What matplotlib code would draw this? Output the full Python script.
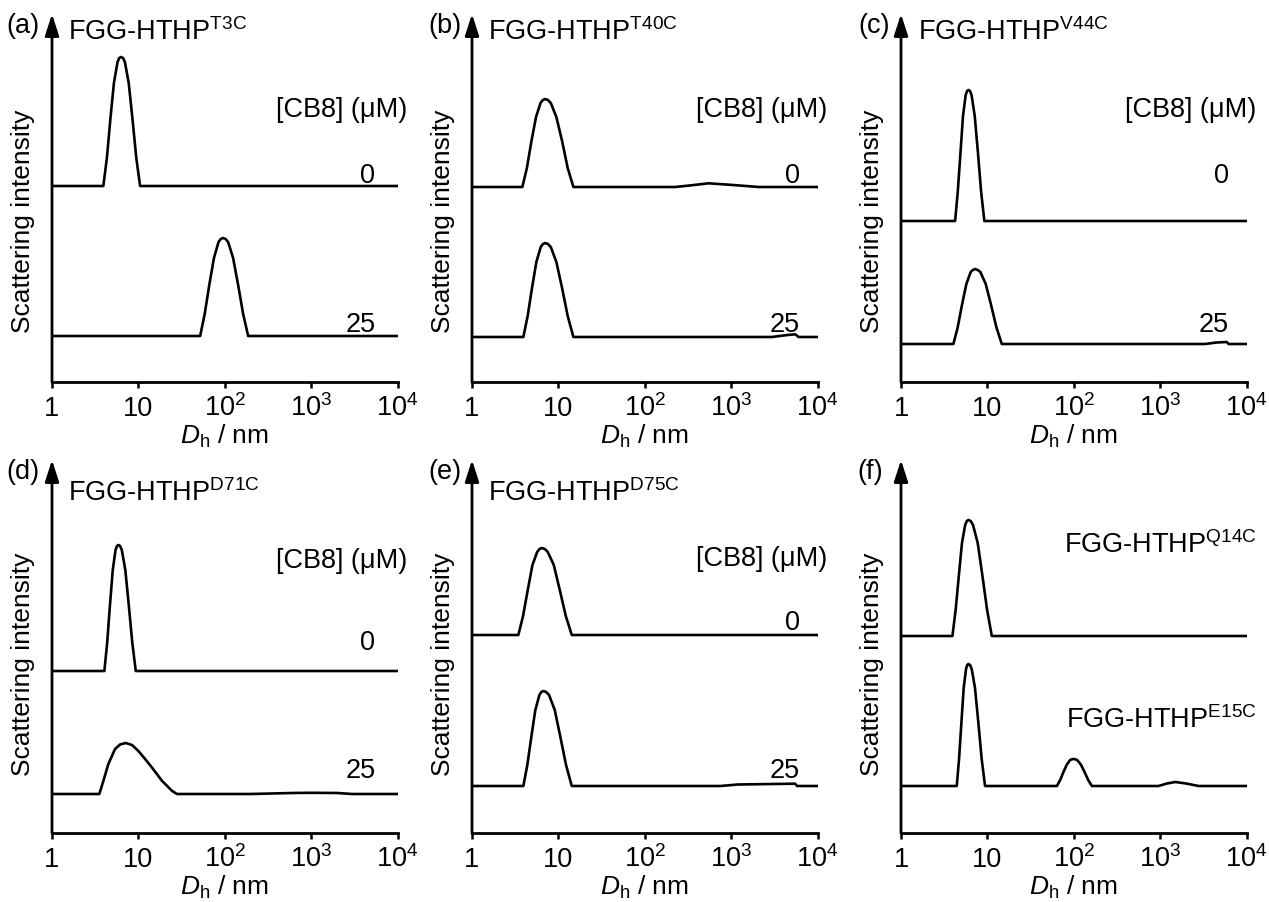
import matplotlib
matplotlib.use("Agg")
import matplotlib.pyplot as plt
from matplotlib.ticker import NullLocator

plt.rcParams['font.family'] = ['Liberation Sans', 'DejaVu Sans']
plt.rcParams['mathtext.fontset'] = 'custom'
plt.rcParams['mathtext.rm'] = 'Liberation Sans'
plt.rcParams['mathtext.it'] = 'Liberation Sans:italic'
plt.rcParams['mathtext.bf'] = 'Liberation Sans:bold'

# ---------------------------------------------------------------
# DLS size distributions
# x = D_h (nm), y = scattering intensity (a.u.)
# ---------------------------------------------------------------
# (a) T3C
a0_x = [1, 3.93, 4.32, 4.74, 5.21, 5.74, 6.01, 6.31, 6.64, 6.98, 7.73, 8.55, 9.46, 10.47, 1e4]
a0_y = [0, 0, 28, 67, 103, 124, 128, 129, 128, 124, 103, 67, 28, 0, 0]
a25_x = [1, 51.9, 58.6, 66.2, 75.0, 84.7, 89.9, 95.7, 102.3, 109.4, 125.0, 142.9, 163.3, 186.6, 1e4]
a25_y = [0, 0, 22, 51, 78, 94, 97, 98, 97, 94, 78, 51, 22, 0, 0]
# (b) T40C
b0_x = [1, 3.83, 4.32, 4.88, 5.51, 6.21, 6.61, 7.01, 7.57, 8.17, 9.48, 11.04, 12.82, 14.93,
        225, 330, 547, 1050, 2080, 1e4]
b0_y = [0, 0, 19, 46, 70, 84, 87, 88, 87, 84, 70, 46, 19, 0,
        0, 1.5, 3.7, 2, 0, 0]
b25_x = [1, 3.93, 4.41, 4.95, 5.56, 6.25, 6.62, 7.01, 7.57, 8.17, 9.48, 11.04, 12.82, 14.93,
         2970, 4500, 5530, 6040, 1e4]
b25_y = [0, 0, 21, 49, 75, 90, 93, 94, 93, 90, 75, 49, 21, 0,
         0, 2, 2.7, 0, 0]
# (c) V44C
c0_x = [1, 4.23, 4.54, 4.88, 5.22, 5.61, 5.82, 6.03, 6.30, 6.56, 7.14, 7.78, 8.47, 9.23, 1e4]
c0_y = [0, 0, 29, 68, 105, 126, 130, 131, 130, 126, 105, 68, 29, 0, 0]
c25_x = [1, 4.04, 4.53, 5.08, 5.71, 6.41, 6.79, 7.19, 7.73, 8.30, 9.57, 11.04, 12.74, 14.69,
         3330, 4500, 5900, 6200, 1e4]
c25_y = [0, 0, 16.5, 39, 60, 72, 74, 75, 74, 72, 60, 39, 16.5, 0,
         0, 1.5, 2, 0, 0]
# (d) D71C
d0_x = [1, 4.04, 4.35, 4.69, 5.05, 5.44, 5.65, 5.86, 6.14, 6.43, 7.06, 7.74, 8.51, 9.33, 1e4]
d0_y = [0, 0, 28, 66, 101, 121, 125, 126, 125, 121, 101, 66, 28, 0, 0]
d25_x = [1, 3.53, 3.90, 4.49, 5.37, 6.14, 7.14, 8.45, 10.0, 11.96, 14.3, 18.7, 24.4, 27.9,
         200, 600, 1000, 2000, 3000, 1e4]
d25_y = [0, 0, 12, 30, 45, 49.5, 51, 49, 43, 35, 26.7, 13.3, 3.3, 0,
         0, 1, 1.2, 1, 0, 0]
# (e) D75C
e0_x = [1, 3.44, 3.90, 4.42, 5.01, 5.68, 6.04, 6.43, 6.97, 7.54, 8.85, 10.38, 12.19, 14.29, 1e4]
e0_y = [0, 0, 19, 45, 70, 83, 86, 87, 86, 83, 70, 45, 19, 0, 0]
e25_x = [1, 3.93, 4.37, 4.86, 5.41, 6.03, 6.35, 6.70, 7.23, 7.80, 9.08, 10.55, 12.27, 14.29,
         750, 1200, 3000, 5500, 5800, 1e4]
e25_y = [0, 0, 21, 49, 76, 91, 94, 95, 94, 91, 76, 49, 21, 0,
         0, 1.5, 2, 2.3, 0, 0]
# (f) Q14C / E15C
q14_x = [1, 3.94, 4.29, 4.67, 5.08, 5.53, 5.78, 6.03, 6.41, 6.82, 7.73, 8.77, 9.93, 11.25, 1e4]
q14_y = [0, 0, 26, 60, 93, 111, 115, 116, 115, 111, 93, 60, 26, 0, 0]
e15_x = [1, 4.42, 4.70, 5.00, 5.32, 5.66, 5.84, 6.03, 6.30, 6.59, 7.19, 7.87, 8.59, 9.40,
         63.7, 69.7, 76.0, 83.2, 90.8, 95.1, 99.3, 104.2, 109.6, 120.8, 133.4, 146.9, 162.2,
         959, 1200, 1496, 2000, 2786, 1e4]
e15_y = [0, 0, 27, 63, 98, 117, 121, 122, 121, 117, 98, 63, 27, 0,
         0, 6, 14, 21.5, 26, 26.7, 27, 26.7, 26, 21.5, 14, 6, 0,
         0, 2.5, 4, 2.5, 0, 0]

# vertical offsets of the stacked traces (a.u.)
offsets_upper = [196, 195, 161, 162, 198, 197]
offsets_lower = [46, 45, 38, 39, 47, 47]

panel_letters = ['(a)', '(b)', '(c)', '(d)', '(e)', '(f)']
mutants = ['T3C', 'T40C', 'V44C', 'D71C', 'D75C', None]
upper_labels = ['0', '0', '0', '0', '0', 'FGG-HTHP$^{\\mathrm{Q14C}}$']
lower_labels = ['25', '25', '25', '25', '25', 'FGG-HTHP$^{\\mathrm{E15C}}$']
tick_vals = [1, 10, 100, 1000, 10000]
tick_labels = ['1', '10', '10$^{2}$', '10$^{3}$', '10$^{4}$']

curves = [(a0_x, a0_y, a25_x, a25_y), (b0_x, b0_y, b25_x, b25_y),
          (c0_x, c0_y, c25_x, c25_y), (d0_x, d0_y, d25_x, d25_y),
          (e0_x, e0_y, e25_x, e25_y), (q14_x, q14_y, e15_x, e15_y)]

# layout (pixels)
W, H = 1269, 903
lefts = [52, 472, 901]
width = 345.5
row_bottom = [383, 834]
row_top = [15, 461]
fs = 19.5

fig = plt.figure(figsize=(W / 100, H / 100), dpi=100)

for i in range(6):
    row, col = divmod(i, 3)
    h = row_bottom[row] - row_top[row]
    ax = fig.add_axes([lefts[col] / W, 1 - row_bottom[row] / H, width / W, h / H])
    x0, y0, x1, y1 = curves[i]
    ax.plot(x0, [v + offsets_upper[i] for v in y0], color='black', lw=1.9,
            solid_joinstyle='round')
    ax.plot(x1, [v + offsets_lower[i] for v in y1], color='black', lw=1.9,
            solid_joinstyle='round')
    ax.set_xscale('log')
    ax.set_xlim(1, 1e4)
    ax.set_ylim(0, h)
    ax.set_xticks(tick_vals)
    ax.set_xticklabels(tick_labels)
    ax.xaxis.set_minor_locator(NullLocator())
    ax.set_yticks([])
    for s in ['top', 'right', 'left']:
        ax.spines[s].set_visible(False)
    ax.spines['bottom'].set_linewidth(2)
    ax.tick_params(axis='x', direction='out', length=4.5, width=1.8,
                   labelsize=fs, pad=19)
    for lab in ax.get_xticklabels():
        lab.set_va('baseline')
    # y axis with arrow head
    ax.annotate('', xy=(0, 1), xytext=(0, 0), xycoords='axes fraction',
                arrowprops=dict(arrowstyle='-|>,head_length=1.3,head_width=0.42',
                                lw=2, color='black', shrinkA=0, shrinkB=0))
    ax.text(-0.084, 0.44 if row == 0 else 0.454, 'Scattering intensity',
            rotation=90, ha='center', va='center', fontsize=19,
            transform=ax.transAxes)
    ax.xaxis.set_label_coords(0.5, -40.0 / h)
    ax.set_xlabel('$D_{\\mathrm{h}}$ / nm', fontsize=19, va='top')

    # panel letter
    lx = [-0.035, -0.030, -0.032][col] if i != 5 else -0.051
    ax.text(lx, 0.951, panel_letters[i], ha='right', va='baseline', fontsize=fs,
            transform=ax.transAxes)
    if mutants[i]:
        ty = 0.932 if row == 0 else 0.892
        tx = 0.050 if col == 2 else 0.047
        ax.text(tx, ty, 'FGG-HTHP$^{\\mathrm{%s}}$' % mutants[i], ha='left',
                va='baseline', fontsize=fs, transform=ax.transAxes)
        cb_y = [0.724, 0.724, 0.724, 0.713, 0.718][i]
        cb_x = [1.028, 1.027, 1.029][col]
        ax.text(cb_x, cb_y, '[CB8] (\u03bcM)', ha='right', va='baseline',
                fontsize=fs, transform=ax.transAxes)
        nx = [0.936, 0.948, 0.948][col]
        ax.text(nx, [0.543, 0.543, 0.543, 0.494, 0.548][i], upper_labels[i],
                ha='right', va='baseline', fontsize=fs, transform=ax.transAxes)
        ax.text(nx, [0.139, 0.139, 0.139, 0.150, 0.150][i], lower_labels[i],
                ha='right', va='baseline', fontsize=fs, transform=ax.transAxes)
    else:
        ax.text(1.029, 0.753, upper_labels[i], ha='right', va='baseline',
                fontsize=fs, transform=ax.transAxes)
        ax.text(1.029, 0.284, lower_labels[i], ha='right', va='baseline',
                fontsize=fs, transform=ax.transAxes)

fig.savefig('out.png', dpi=100)
